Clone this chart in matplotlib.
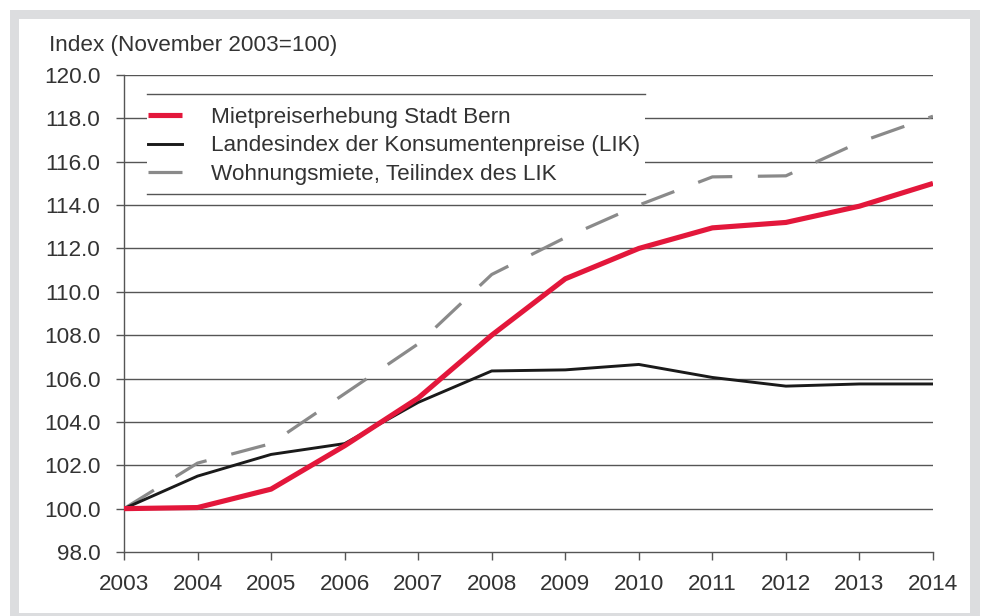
import matplotlib
matplotlib.use("Agg")
import matplotlib.pyplot as plt
from matplotlib.patches import Rectangle

years = [2003, 2004, 2005, 2006, 2007, 2008, 2009, 2010, 2011, 2012, 2013, 2014]
bern = [100.0, 100.05, 100.9, 102.9, 105.1, 108.0, 110.6, 112.0, 112.95, 113.2, 113.95, 115.0]
lik = [100.0, 101.5, 102.5, 103.0, 104.9, 106.35, 106.4, 106.65, 106.05, 105.65, 105.75, 105.75]
miete = [100.0, 102.1, 103.0, 105.3, 107.6, 110.8, 112.5, 114.0, 115.3, 115.35, 116.9, 118.1]
labels = ["Mietpreiserhebung Stadt Bern",
          "Landesindex der Konsumentenpreise (LIK)",
          "Wohnungsmiete, Teilindex des LIK"]
yticks = [98 + 2 * i for i in range(12)]

plt.rcParams['font.family'] = ['Liberation Sans', 'DejaVu Sans']
txt = '#333333'
grid = '#555555'
fs = 16.2

W, H = 981, 616
fig = plt.figure(figsize=(W / 100, H / 100), dpi=100)
# grey frame around the chart
fig.patches.append(Rectangle((10 / W, 0), 970 / W, 606 / H, transform=fig.transFigure,
                             facecolor='#dcdddf', edgecolor='none', zorder=-2))
fig.patches.append(Rectangle((19 / W, 3 / H), 951 / W, 594 / H, transform=fig.transFigure,
                             facecolor='white', edgecolor='none', zorder=-1))

ax = fig.add_axes([124 / W, (H - 552) / H, (933 - 124) / W, (552 - 75) / H])
ax.set_facecolor('none')

for y in yticks[1:]:
    ax.axhline(y, color=grid, lw=1.0, zorder=1)

ax.plot(years, miete, color='#8a8a8a', lw=2.3, dashes=[11, 8], zorder=3, label=labels[2])
ax.plot(years, lik, color='#1a1a1a', lw=2.1, zorder=4, label=labels[1])
ax.plot(years, bern, color='#e3173b', lw=3.7, zorder=5, solid_capstyle='butt', label=labels[0])

ax.set_xlim(2003, 2014)
ax.set_ylim(98, 120)
ax.set_xticks(years)
ax.set_yticks(yticks)
ax.set_yticklabels([f"{v:.1f}" for v in yticks])
for s in ['top', 'right']:
    ax.spines[s].set_visible(False)
for s in ['left', 'bottom']:
    ax.spines[s].set_color(grid)
    ax.spines[s].set_linewidth(1.0)
ax.tick_params(axis='both', direction='out', length=6, width=1.0, color=grid,
               labelsize=fs, labelcolor=txt)
ax.tick_params(axis='y', pad=11)
ax.tick_params(axis='x', pad=10)

fig.text(49 / W, (H - 45) / H, "Index (November 2003=100)", fontsize=fs, color=txt,
         ha='left', va='center')

# legend box: white panel with a rule above and below
def px(xp, yp):
    return ((xp - 124) / 809, (552 - yp) / 477)

bx0, by1 = px(147, 94)
bx1, by0 = px(645, 194)
ax.add_patch(Rectangle((bx0, by0), bx1 - bx0, by1 - by0, transform=ax.transAxes,
                       facecolor='white', edgecolor='none', zorder=2))
for yy in (by0, by1):
    ax.plot([bx0, bx1], [yy, yy], transform=ax.transAxes, color=grid, lw=1.0, zorder=2.5)

h, l = ax.get_legend_handles_labels()
order = [2, 1, 0]
ax.legend([h[i] for i in order], [l[i] for i in order],
          loc='upper left', bbox_to_anchor=px(148, 107), frameon=False, fontsize=fs,
          handlelength=1.5, handletextpad=1.3, labelspacing=0.33, borderpad=0,
          borderaxespad=0, labelcolor=txt)

fig.savefig("out.png", dpi=100)
